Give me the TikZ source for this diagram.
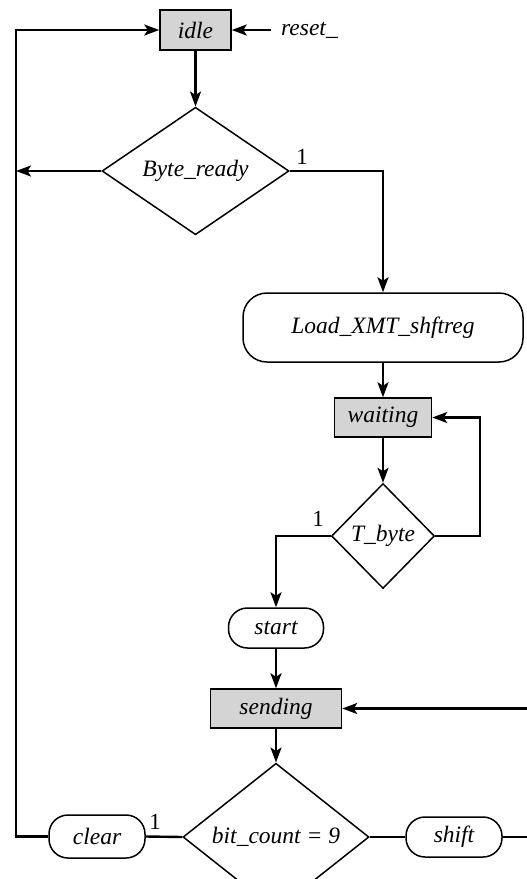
\documentclass[tikz,border=0pt]{standalone}
\usepackage{fontspec}
\setmainfont{Liberation Serif}
\usetikzlibrary{shapes.geometric,arrows.meta,calc}
\definecolor{boxgray}{HTML}{D4D4D4}
\begin{document}
\begin{tikzpicture}[x=1pt,y=-1pt,
  labelfont/.style={font=\fontsize{23.5}{27}\selectfont\itshape},
  state/.style={draw, line width=1.5pt, fill=boxgray, inner sep=0pt, labelfont},
  action/.style={draw, line width=1.5pt, rounded corners=19pt, inner sep=0pt, labelfont},
  test/.style={draw, diamond, line width=1.5pt, inner sep=0pt, labelfont},
  link/.style={line width=2.4pt},
  flow/.style={link, -{Stealth[length=15pt,width=11pt,inset=3.5pt]}},
  branch/.style={font=\fontsize{23}{27}\selectfont, inner sep=0pt}]
\useasboundingbox (0,0) rectangle (527,879);
\clip (0,0) rectangle (527,879);

% states and decisions
\node[state, minimum width=71pt, minimum height=40pt] (idle) at (195.5,30) {idle};
\node[labelfont, anchor=west, inner sep=0pt] (reset) at (281,30) {reset\_};
\node[test, minimum width=187pt, minimum height=106pt] (byte) at (195.5,171) {Byte\_ready};
\node[action, rounded corners=24pt, minimum width=280pt, minimum height=69pt] (load) at (383,327.5) {Load\_XMT\_shftreg};
\node[state, minimum width=97pt, minimum height=39pt] (wait) at (383,417.5) {waiting};
\node[test, minimum width=103pt, minimum height=105pt] (tbyte) at (383,536) {T\_byte};
\node[action, minimum width=95pt, minimum height=40pt] (start) at (276,628) {start};
\node[state, minimum width=131pt, minimum height=39pt] (send) at (276,708.5) {sending};
\node[test, minimum width=186pt, minimum height=92pt] (count) at (276,837) {bit\_count = 9};
\node[action, minimum width=96pt, minimum height=43pt] (clear) at (97,836.5) {clear};
\node[action, minimum width=96pt, minimum height=40pt] (shift) at (454,837) {shift};

% turning points of the loop-back lines
\coordinate (lx) at (16,400);
\coordinate (tr) at (480,470);
\coordinate (rx) at (535,780);

% connectors
\draw[flow] ([xshift=-10pt]reset.west) -- (idle.east);
\draw[flow] (idle) -- (byte);
\draw[flow] (byte.west) -- (byte.west -| lx);
\draw[flow] (byte.east) -| (load.north);
\draw[flow] (load) -- (wait);
\draw[flow] (wait) -- (tbyte);
\draw[flow] (tbyte.east) -| (tr) |- (wait.east);
\draw[flow] (tbyte.west) -| (start.north);
\draw[flow] (start) -- (send);
\draw[flow] (send) -- (count);
\draw[link] (count.west) -- (clear.east);
\draw[flow] (clear.west) -| (lx) |- (idle.west);
\draw[link] (count.east) -- (shift.west);
\draw[flow] (shift.east) -| (rx) |- (send.east);

% branch labels
\node[branch] at (302,157) {1};
\node[branch] at (318,519) {1};
\node[branch] at (155,822) {1};
\end{tikzpicture}
\end{document}
